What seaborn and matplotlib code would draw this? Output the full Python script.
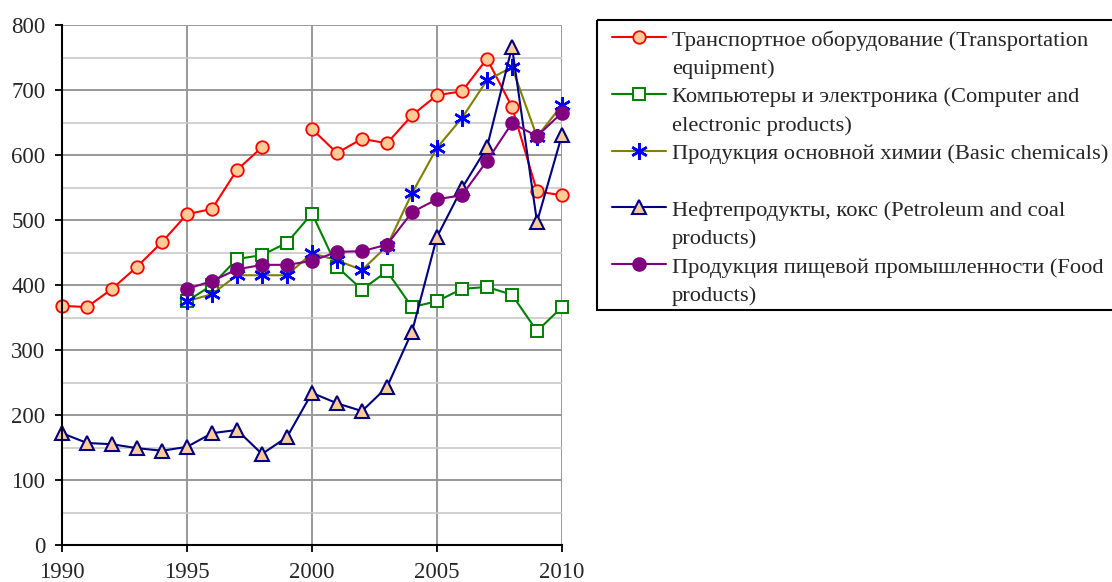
import numpy as np
import matplotlib
matplotlib.use("Agg")
import matplotlib.pyplot as plt
from matplotlib.lines import Line2D
from matplotlib.patches import Rectangle
from matplotlib.ticker import MultipleLocator
import seaborn as sns

nan = np.nan

# годы и значения
years = list(range(1990, 2011))
years_95 = list(range(1995, 2011))

transport = [368, 366, 394, 428, 466, 509, 517, 577, 612, nan,
             640, 603, 625, 618, 661, 692, 698, 748, 674, 544, 538]
computers = [375, 400, 440, 446, 465, 510, 428, 393, 421, 366,
             375, 394, 397, 385, 329, 366]
chemicals = [375, 386, 415, 415, 415, 449, 438, 423, 460, 541,
             611, 657, 715, 735, 628, 677]
petroleum = [172, 157, 155, 149, 145, 151, 172, 177, 140, 166,
             234, 218, 206, 243, 328, 474, 549, 612, 766, 497, 631]
food = [394, 406, 424, 431, 431, 437, 451, 452, 462, 512,
        532, 538, 591, 649, 629, 665]

labels = [
    ["Транспортное оборудование (Transportation", "equipment)"],
    ["Компьютеры и электроника (Computer and", "electronic products)"],
    ["Продукция основной химии (Basic chemicals)", " "],
    ["Нефтепродукты, кокс (Petroleum and coal", "products)"],
    ["Продукция пищевой промышленности (Food", "products)"],
]

STAR = (6, 2, 0)
styles = [
    dict(color="#FF0000", marker="o", markersize=9, markerfacecolor="#FFCC99",
         markeredgecolor="#FF0000", markeredgewidth=1.3),
    dict(color="#008000", marker="s", markersize=8.5, markerfacecolor="white",
         markeredgecolor="#008000", markeredgewidth=1.4),
    dict(color="#808000", marker=STAR, markersize=12, markerfacecolor="#0000FF",
         markeredgecolor="#0000FF", markeredgewidth=1.8),
    dict(color="#000080", marker="^", markersize=10, markerfacecolor="#FFCC99",
         markeredgecolor="#000080", markeredgewidth=1.5),
    dict(color="#800080", marker="o", markersize=9.5, markerfacecolor="#800080",
         markeredgecolor="#800080", markeredgewidth=1.0),
]

sns.set_style("white")
plt.rcParams["font.family"] = ["Liberation Serif", "DejaVu Serif"]
FS = 16.5
LFS = 16.2

fig = plt.figure(figsize=(11.12, 5.82), dpi=100)
ax = fig.add_axes([62 / 1112, 37 / 582, 500 / 1112, 520 / 582])

# транспорт: разрыв в 1999 году
tr = np.array(transport, dtype=float)
yr = np.array(years)
ok = ~np.isnan(tr)
seg1 = ok & (yr < 1999)
seg2 = ok & (yr > 1999)
for m in (seg1, seg2):
    sns.lineplot(x=yr[m], y=tr[m], ax=ax, linewidth=1.5, clip_on=False, **styles[0])

series = [(years_95, computers), (years_95, chemicals), (years, petroleum), (years_95, food)]
for (xs, ys), st in zip(series, styles[1:]):
    sns.lineplot(x=xs, y=ys, ax=ax, linewidth=1.5, clip_on=False, **st)

ax.set_xlim(1990, 2010)
ax.set_ylim(0, 800)
ax.xaxis.set_major_locator(MultipleLocator(5))
ax.yaxis.set_major_locator(MultipleLocator(100))
ax.yaxis.set_minor_locator(MultipleLocator(50))
ax.grid(which="major", axis="both", color="#999999", linewidth=1.4)
ax.grid(which="minor", axis="y", color="#C8C8C8", linewidth=1.2)
ax.set_axisbelow(True)
ax.set_xlabel("")
ax.set_ylabel("")
for side in ("top", "right"):
    ax.spines[side].set_visible(False)
for side in ("left", "bottom"):
    ax.spines[side].set_color("black")
    ax.spines[side].set_linewidth(1.5)
ax.tick_params(which="major", direction="out", length=5, width=1.3, color="black",
               labelsize=FS, bottom=True, left=True)
ax.tick_params(axis="y", pad=7)
ax.tick_params(axis="x", pad=7)
ax.tick_params(which="minor", left=False)

# легенда справа (строки переносятся как в оригинале)
lax = fig.add_axes([0, 0, 1, 1], zorder=5)
lax.set_xlim(0, 1112)
lax.set_ylim(582, 0)
lax.axis("off")
lax.add_patch(Rectangle((597, 20), 600, 290, fill=False, edgecolor="black",
                        linewidth=1.5, clip_on=False))
marker_keys = ("marker", "markersize", "markerfacecolor", "markeredgecolor", "markeredgewidth")
base0, step = 45.7, 28.35
row = 0
for lab, st in zip(labels, styles):
    yb = base0 + row * step
    lax.add_line(Line2D([612, 666], [yb - 8.4, yb - 8.4], linewidth=1.5,
                        **{k: v for k, v in st.items() if k not in marker_keys}))
    lax.add_line(Line2D([639], [yb - 8.4], linestyle="none",
                        **{k: v for k, v in st.items() if k != "color"}))
    for line in lab:
        lax.text(672, base0 + row * step, line, fontsize=LFS, va="baseline", ha="left")
        row += 1

fig.savefig("out.png", dpi=100)
